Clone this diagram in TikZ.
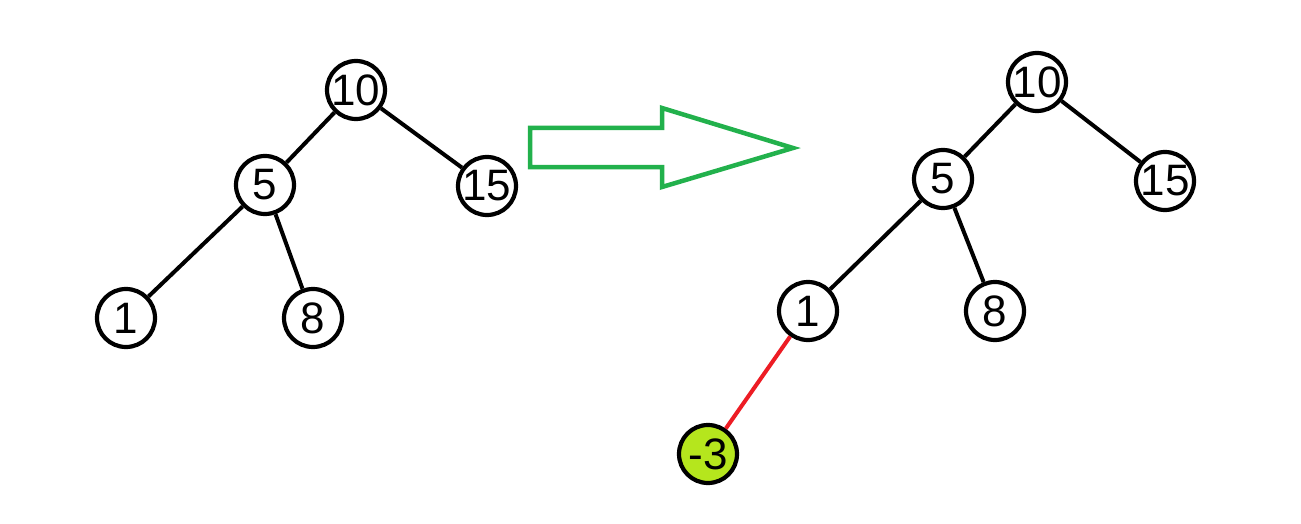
\documentclass[tikz,border=0pt]{standalone}
\usepackage{fontspec}
\setmainfont{Liberation Sans}
\definecolor{paintgreen}{HTML}{22B14C}
\definecolor{paintred}{HTML}{ED1C24}
\definecolor{paintlime}{HTML}{B5E61D}
\tikzset{
  bstnode/.style={circle, draw=black, line width=4.2pt, fill=white, minimum size=58pt, inner sep=0pt, font=\fontsize{44}{44}\selectfont},
  newnode/.style={bstnode, fill=paintlime},
  edge/.style={draw=black, line width=4pt},
  newedge/.style={draw=paintred, line width=4pt},
  bigarrow/.style={draw=paintgreen, line width=4.5pt, line join=miter}
}
\begin{document}
\begin{tikzpicture}[x=1pt,y=-1pt]
\useasboundingbox[fill=white] (0,0) rectangle (1301,524);
% left tree
\node[bstnode] (a10) at (356,90) {10};
\node[bstnode] (a15) at (487,186) {15};
\node[bstnode] (a5) at (265,185) {5};
\node[bstnode] (a1) at (126,318) {1};
\node[bstnode] (a8) at (313,318) {8};
\draw[edge] (a10) -- (a5);
\draw[edge] (a10) -- (a15);
\draw[edge] (a5) -- (a1);
\draw[edge] (a5) -- (a8);
% arrow
\draw[bigarrow] (530,128) -- (662,128) -- (662,108) -- (793,148) -- (662,187) -- (662,167) -- (530,167) -- cycle;
% right tree
\node[bstnode] (b10) at (1037,82) {10};
\node[bstnode] (b15) at (1165,181) {15};
\node[bstnode] (b5) at (943,179) {5};
\node[bstnode] (b1) at (808,311) {1};
\node[bstnode] (b8) at (995,311) {8};
\node[newnode] (bm3) at (708,454) {-3};
\draw[edge] (b10) -- (b5);
\draw[edge] (b10) -- (b15);
\draw[edge] (b5) -- (b1);
\draw[edge] (b5) -- (b8);
\draw[newedge] (b1) -- (bm3);
\end{tikzpicture}
\end{document}
